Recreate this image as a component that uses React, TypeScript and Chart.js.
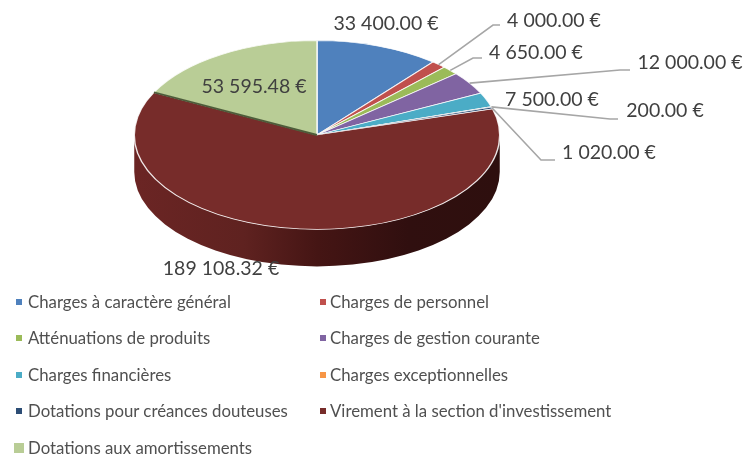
import React, { useEffect, useRef } from "react";
import { Chart, registerables } from "chart.js";

Chart.register(...registerables);

const categories = [
  "Charges à caractère général",
  "Charges de personnel",
  "Atténuations de produits",
  "Charges de gestion courante",
  "Charges financières",
  "Charges exceptionnelles",
  "Dotations pour créances douteuses",
  "Virement à la section d'investissement",
  "Dotations aux amortissements",
];
const values = [33400, 4000, 4650, 12000, 7500, 200, 1020, 189108.32, 53595.48];
const colors = ["#4F81BD", "#C0504D", "#9BBB59", "#8064A2", "#4BACC6", "#F79646", "#2C4D75", "#772C2A", "#B9CD96"];

// Layout only: text centre for every value label, and the elbow of its leader line (if any).
const labelCentres: [number, number][] = [
  [386, 24], [554, 21], [536, 53], [690, 63], [552, 100], [665, 111], [609, 153], [221, 269], [254, 87],
];
const leaderElbows: ([number, number, number] | null)[] = [
  null, [493, 25, 500], [473, 58, 482], [620, 70, 630], null, [610, 119, 618], [541, 160, 555], null, null,
];

const PIE_X = 317;
const PIE_Y = 135;
const SQUASH = 94 / 182;
const DEPTH = 37;
const FONT = "Lato, sans-serif";

const money = (v: number) => v.toFixed(2).replace(/\B(?=(\d{3})+(?!\d))/g, " ") + " €";

const pie3d = {
  id: "pie3d",
  beforeDatasetsDraw(chart: any) {
    const { ctx } = chart;
    const arcs = chart.getDatasetMeta(0).data;
    const R = arcs[0].outerRadius;
    const ry = R * SQUASH;
    const grad = ctx.createLinearGradient(PIE_X - R, 0, PIE_X + R, 0);
    grad.addColorStop(0, "#6B2524");
    grad.addColorStop(0.3, "#5F2220");
    grad.addColorStop(0.5, "#451514");
    grad.addColorStop(0.75, "#300F0F");
    grad.addColorStop(1, "#2E0F0E");
    arcs.forEach((a: any) => {
      const a0 = Math.max(a.startAngle, 0);
      const a1 = Math.min(a.endAngle, Math.PI);
      if (a1 <= a0) return;
      ctx.beginPath();
      ctx.ellipse(PIE_X, PIE_Y, R, ry, 0, a0, a1);
      ctx.ellipse(PIE_X, PIE_Y + DEPTH, R, ry, 0, a1, a0, true);
      ctx.closePath();
      ctx.fillStyle = grad;
      ctx.fill();
    });
    ctx.save();
    ctx.translate(PIE_X, PIE_Y);
    ctx.scale(1, SQUASH);
    ctx.translate(-arcs[0].x, -arcs[0].y);
  },
  afterDatasetsDraw(chart: any) {
    const { ctx } = chart;
    ctx.restore();
    const arcs = chart.getDatasetMeta(0).data;
    const R = arcs[0].outerRadius;
    const ry = R * SQUASH;

    // Shaded cut edge between the last two slices.
    const cut = arcs[8].startAngle;
    ctx.beginPath();
    ctx.moveTo(PIE_X, PIE_Y);
    ctx.lineTo(PIE_X + R * Math.cos(cut), PIE_Y + ry * Math.sin(cut));
    ctx.strokeStyle = "#4E5C3A";
    ctx.lineWidth = 2;
    ctx.stroke();

    // Leader lines
    ctx.strokeStyle = "#A6A6A6";
    ctx.lineWidth = 1.6;
    arcs.forEach((a: any, i: number) => {
      const e = leaderElbows[i];
      if (!e) return;
      const mid = (a.startAngle + a.endAngle) / 2;
      ctx.beginPath();
      ctx.moveTo(PIE_X + R * Math.cos(mid), PIE_Y + ry * Math.sin(mid));
      ctx.lineTo(e[0], e[1]);
      ctx.lineTo(e[2], e[1]);
      ctx.stroke();
    });

    // Value labels
    ctx.font = `19.5px ${FONT}`;
    ctx.fillStyle = "#404040";
    ctx.textAlign = "center";
    ctx.textBaseline = "middle";
    values.forEach((v, i) => {
      ctx.fillText(money(v), labelCentres[i][0], labelCentres[i][1]);
    });
  },
};

export default function App() {
  const ref = useRef<HTMLCanvasElement>(null);
  useEffect(() => {
    const chart = new Chart(ref.current as HTMLCanvasElement, {
      type: "pie",
      data: {
        labels: categories,
        datasets: [
          {
            data: values,
            backgroundColor: colors,
            borderColor: "rgba(255,255,255,0.85)",
            borderWidth: 1.5,
            clip: false,
          } as any,
        ],
      },
      options: {
        responsive: false,
        animation: false,
        layout: { padding: { left: 0, right: 112, top: 44, bottom: 44 } },
        plugins: { legend: { display: false }, tooltip: { enabled: false } },
      },
      plugins: [pie3d],
    });
    return () => chart.destroy();
  }, []);

  return (
    <div style={{ position: "absolute", left: 0, top: 0, width: 746, height: 455, overflow: "hidden", background: "#fff" }}>
      <canvas ref={ref} width={746} height={455} style={{ display: "block" }} />
      {categories.map((c, i) => {
        const row = Math.floor(i / 2);
        const col = i % 2;
        const big = i === 8;
        const size = big ? 10 : 6;
        const markerX = col === 0 ? (big ? 14 : 16) : 320;
        const y = 302 + row * 36.4;
        return (
          <React.Fragment key={c}>
            <div style={{ position: "absolute", left: markerX, top: y - size / 2, width: size, height: size, background: colors[i] }} />
            <div
              style={{
                position: "absolute",
                left: col === 0 ? 28 : 330,
                top: y - 12,
                height: 24,
                font: `16.8px/24px ${FONT}`,
                color: "#505050",
                whiteSpace: "nowrap",
              }}
            >
              {c}
            </div>
          </React.Fragment>
        );
      })}
    </div>
  );
}
